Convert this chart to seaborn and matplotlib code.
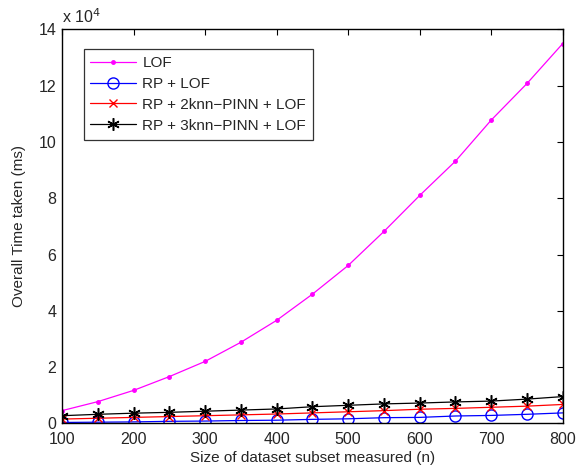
import numpy as np
import pandas as pd
import matplotlib
matplotlib.use("Agg")
import matplotlib.pyplot as plt
import seaborn as sns
from matplotlib.ticker import FuncFormatter, MultipleLocator

n_values = [100, 150, 200, 250, 300, 350, 400, 450, 500, 550, 600, 650, 700, 750, 800]
lof = [0.45, 0.77, 1.17, 1.66, 2.20, 2.88, 3.66, 4.59, 5.61, 6.82, 8.10, 9.32, 10.78, 12.08, 13.50]
rp_lof = [0.03, 0.04, 0.05, 0.07, 0.08, 0.10, 0.11, 0.14, 0.16, 0.20, 0.21, 0.26, 0.28, 0.32, 0.37]
rp_2knn = [0.15, 0.18, 0.21, 0.24, 0.27, 0.30, 0.33, 0.37, 0.41, 0.45, 0.50, 0.53, 0.57, 0.61, 0.67]
rp_3knn = [0.27, 0.32, 0.36, 0.39, 0.43, 0.47, 0.51, 0.59, 0.64, 0.69, 0.72, 0.76, 0.79, 0.86, 0.95]
series_names = ["LOF", "RP + LOF", "RP + 2knn\u2212PINN + LOF", "RP + 3knn\u2212PINN + LOF"]
scale = 1e4

sns.set_theme(style="white")
plt.rcParams['font.family'] = ['Liberation Sans', 'DejaVu Sans']
plt.rcParams['xtick.direction'] = 'in'
plt.rcParams['ytick.direction'] = 'in'

fig = plt.figure(figsize=(5.85, 4.68), dpi=100)
ax = fig.add_axes([0.106, 0.0955, 0.856, 0.8415])

styles = [
    dict(color="#ff00ff", marker=".", markersize=5, mfc="#ff00ff", mec="#ff00ff", mew=1.0),
    dict(color="#0000ff", marker="o", markersize=8, mfc="none", mec="#0000ff", mew=1.0),
    dict(color="#ff0000", marker="x", markersize=6, mfc="#ff0000", mec="#ff0000", mew=1.0),
    dict(color="#000000", marker=(6, 2, 0), markersize=9, mfc="#000000", mec="#000000", mew=1.1),
]
for name, vals, st in zip(series_names, [lof, rp_lof, rp_2knn, rp_3knn], styles):
    df = pd.DataFrame({"n": n_values, "t": np.array(vals) * scale})
    sns.lineplot(data=df, x="n", y="t", ax=ax, label=name, color=st["color"],
                 marker=st["marker"], markersize=st["markersize"],
                 markerfacecolor=st["mfc"], markeredgecolor=st["mec"],
                 markeredgewidth=st["mew"], linewidth=0.9)

ax.set_xlim(100, 800)
ax.set_ylim(0, 14e4)
ax.xaxis.set_major_locator(MultipleLocator(100))
ax.yaxis.set_major_locator(MultipleLocator(2e4))
ax.yaxis.set_major_formatter(FuncFormatter(lambda v, p: f"{v/scale:.0f}"))
ax.tick_params(axis='both', which='both', direction='in', top=True, right=True,
               length=4, width=0.8, labelsize=11.5, color='black')
ax.tick_params(axis='x', pad=6)
ax.tick_params(axis='y', pad=4)
for sp in ax.spines.values():
    sp.set_color('black')
    sp.set_linewidth(1.0)

ax.set_xlabel("Size of dataset subset measured (n)", fontsize=11, labelpad=3)
ax.set_ylabel("Overall Time taken (ms)", fontsize=11, labelpad=9)
ax.text(0.0, 1.008, "x 10$^{4}$", transform=ax.transAxes, fontsize=11.5,
        ha='left', va='bottom')

leg = ax.legend(loc="upper left", bbox_to_anchor=(0.043, 0.95), borderaxespad=0,
                frameon=True, fancybox=False, fontsize=11, handlelength=3.0,
                labelspacing=0.45, borderpad=0.45, handletextpad=0.4)
leg.get_frame().set_edgecolor('black')
leg.get_frame().set_linewidth(0.9)

fig.savefig("out.png", dpi=100)
